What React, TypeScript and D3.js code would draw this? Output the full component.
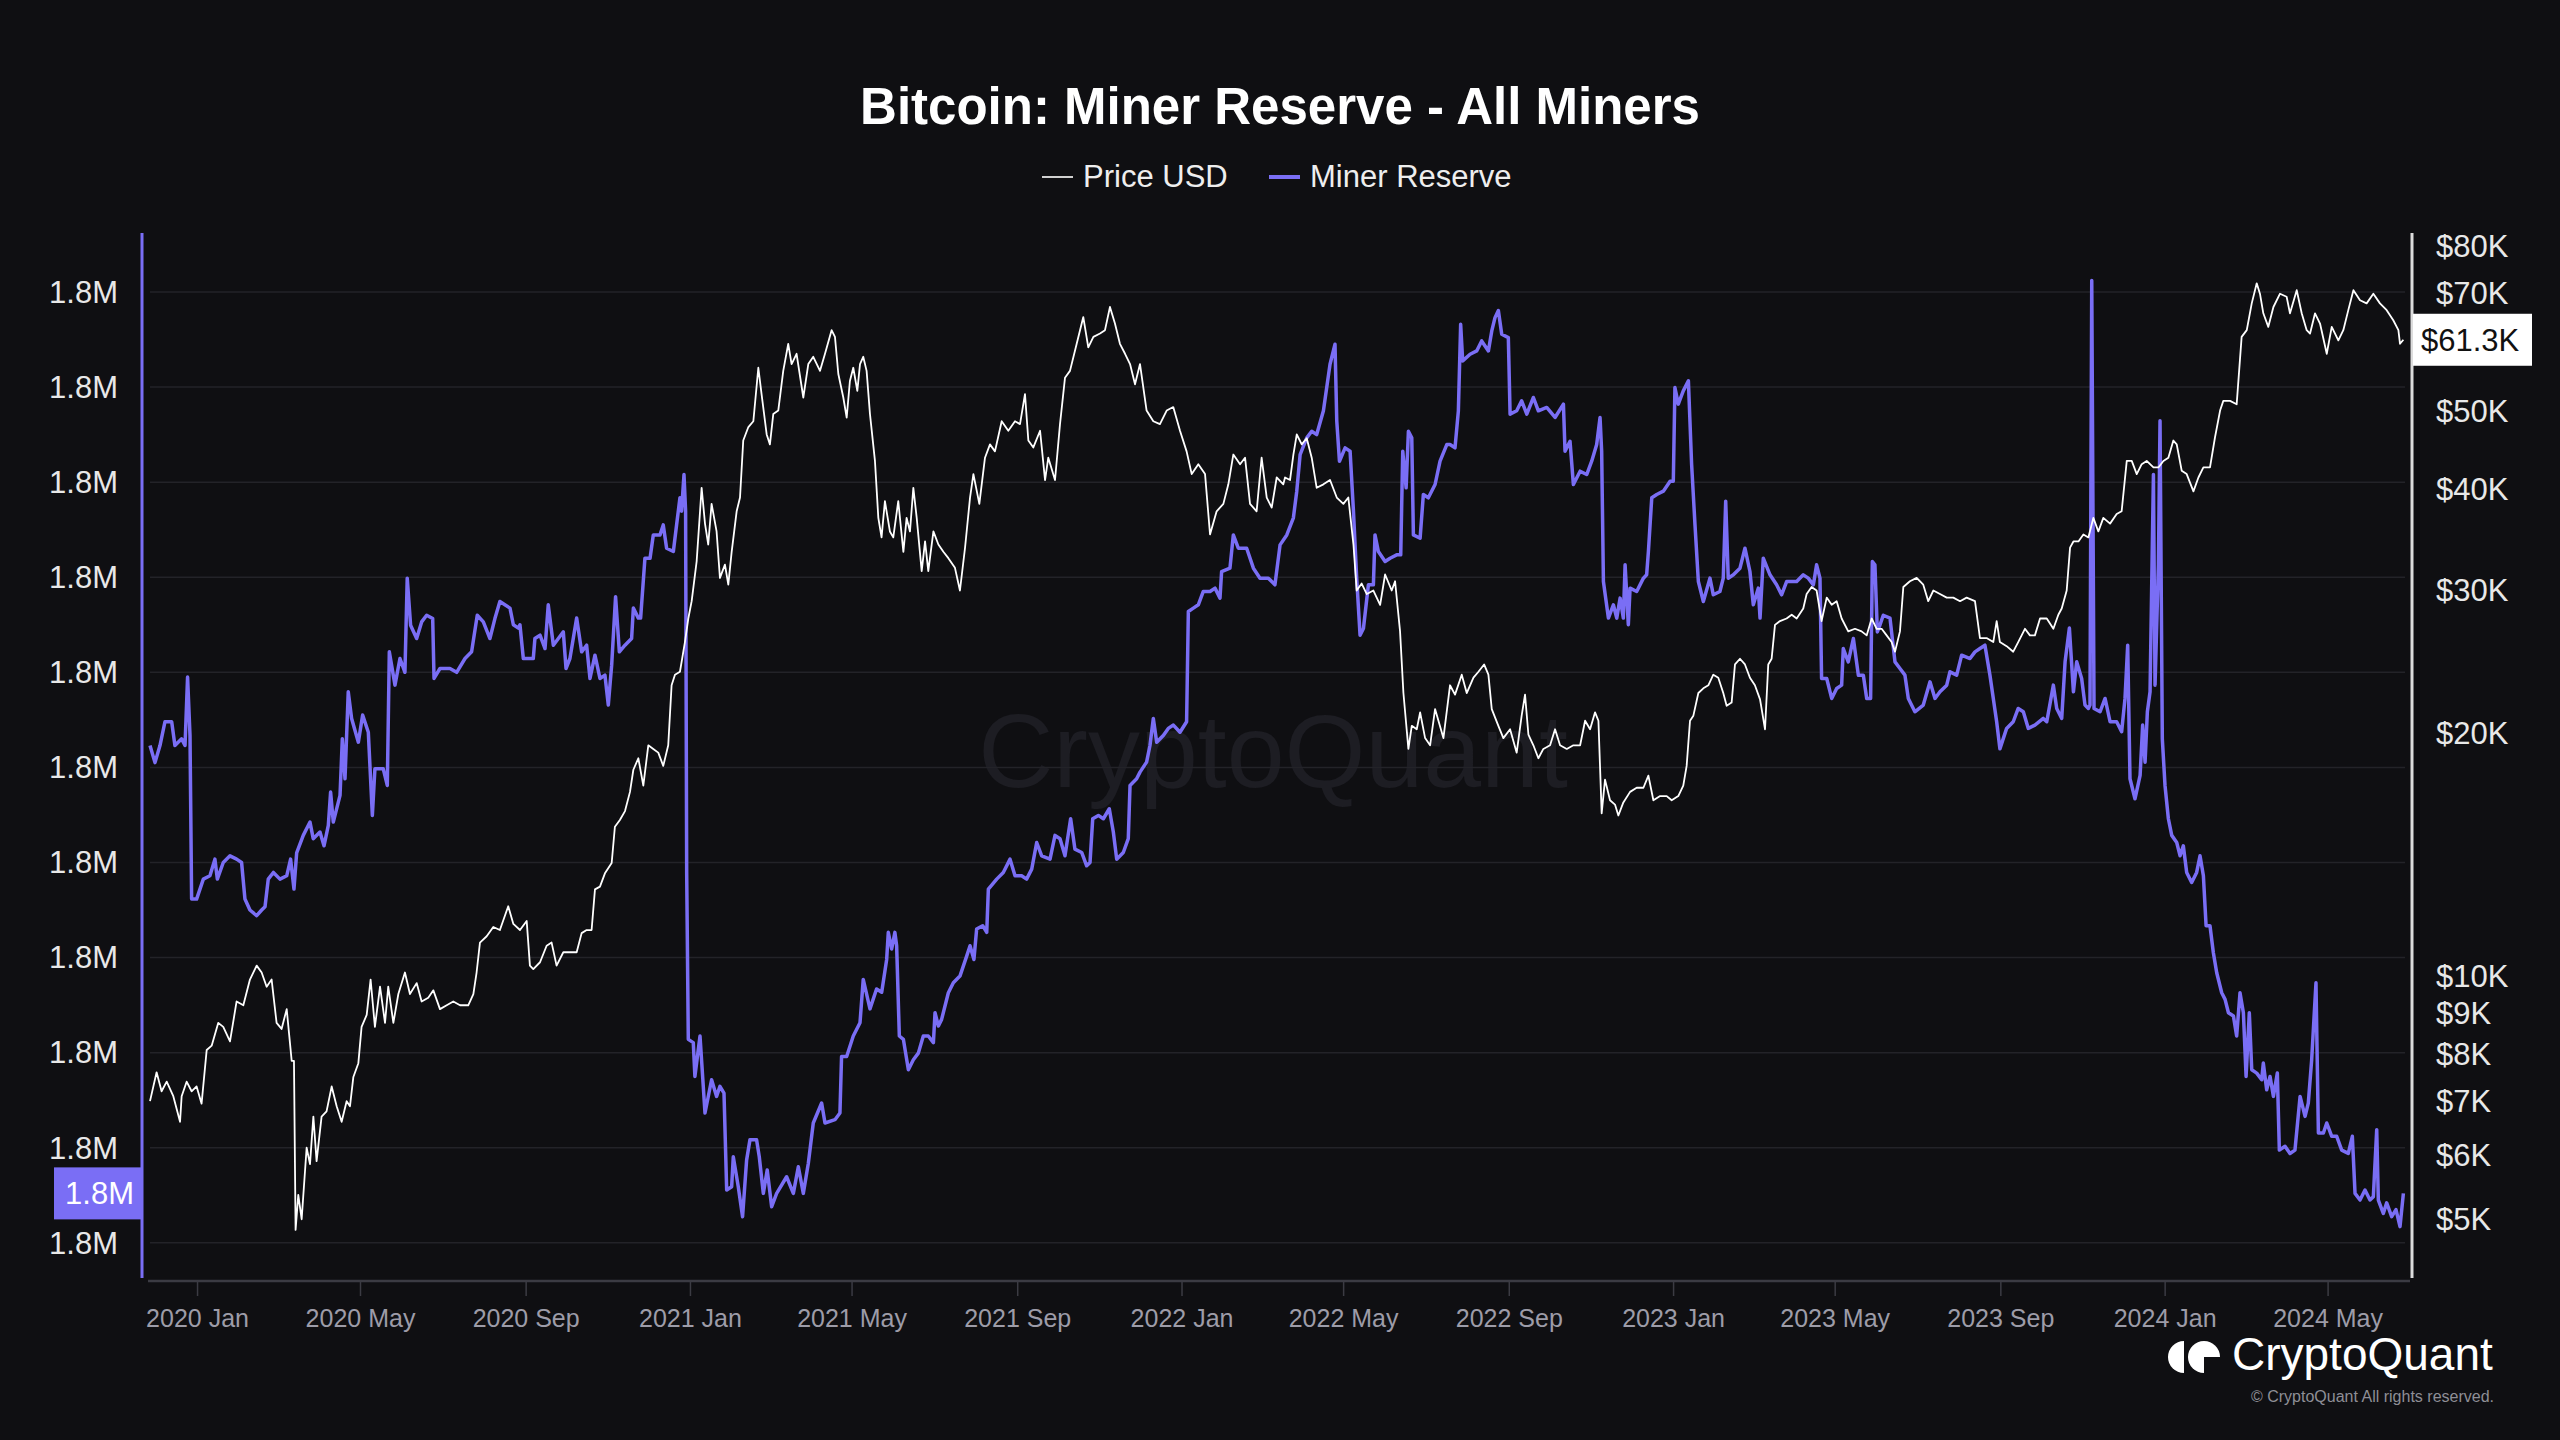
import React from "react";
import * as d3 from "d3";

const W = 2560;
const H = 1440;
const DAY_MS = 86400000;
// day offsets below count from this date
const SERIES_START = Date.UTC(2019, 10, 24);
const DOMAIN_START_DAY = -2.5;
const DOMAIN_END_DAY = 1682.3;

const TITLE = "Bitcoin: Miner Reserve - All Miners";
const LEGEND = ["Price USD", "Miner Reserve"];

// Miner reserve, thousand BTC
const reserveTicks = [1800, 1802, 1804, 1806, 1808, 1810, 1812, 1814, 1816, 1818, 1820];
const RESERVE_DOMAIN = [1799.26, 1821.24];
// Price USD, log axis
const priceTicks = [5000, 6000, 7000, 8000, 9000, 10000, 20000, 30000, 40000, 50000, 70000, 80000];
const PRICE_DOMAIN = [4229, 83100];

// [day offset, miner reserve (thousand BTC)]
const reserveSeries: [number, number][] = [
  [2.7,1810.46],[6.4,1810.1],[10.1,1810.46],[13.8,1810.96],[18.8,1810.96],[21.2,1810.46],[26.2,1810.6],[28.7,1810.46],[30.6,1811.9],[32.4,1810.67],[33.6,1807.23],[37.3,1807.23],[42.3,1807.65],[47.2,1807.72],[50.9,1808.07],[52.7,1807.65],[57.1,1808.0],[62.1,1808.14],[67.0,1808.07],[70.7,1808.0],[73.2,1807.23],[76.9,1807.0],[81.9,1806.88],[85.6,1807.0],[88.1,1807.07],[90.5,1807.65],[94.3,1807.79],[99.2,1807.65],[104.2,1807.72],[107.1,1808.07],[109.6,1807.44],[111.6,1808.2],[116.5,1808.57],[121.5,1808.85],[123.9,1808.5],[128.9,1808.64],[131.9,1808.35],[135.1,1808.78],[136.8,1809.48],[138.8,1808.85],[143.8,1809.41],[145.5,1810.6],[147.5,1809.76],[149.9,1811.59],[152.4,1811.03],[157.4,1810.53],[160.6,1811.1],[164.8,1810.74],[167.8,1808.99],[169.7,1809.97],[175.9,1809.97],[178.9,1809.62],[180.4,1812.43],[184.6,1811.73],[188.3,1812.29],[192.0,1812.0],[193.7,1813.98],[196.2,1812.99],[200.7,1812.71],[204.4,1813.06],[208.1,1813.2],[212.6,1813.13],[213.6,1811.87],[218.0,1812.08],[225.4,1812.08],[230.4,1812.0],[236.6,1812.29],[241.5,1812.43],[245.7,1813.2],[250.2,1813.06],[255.1,1812.71],[258.8,1813.13],[262.5,1813.49],[270.0,1813.35],[272.5,1813.0],[276.2,1812.93],
  [277.4,1813.0],[279.9,1812.29],[287.3,1812.29],[288.5,1812.71],[292.3,1812.78],[296,1812.5],[298.4,1813.42],[302.2,1812.57],[305.9,1812.71],[309.6,1812.85],[311.6,1812.08],[314.5,1812.29],[319.5,1813.14],[323.2,1812.43],[326.9,1812.57],[329.4,1811.87],[333.1,1812.36],[336.8,1811.87],[340.5,1811.94],[343,1811.31],[345.5,1812.15],[348.4,1813.59],[351.2,1812.43],[355.4,1812.57],[360.3,1812.71],[361.6,1813.35],[365.3,1813.14],[367,1813.14],[370.2,1814.4],[374,1814.4],[376.4,1814.89],[381.4,1814.89],[383.8,1815.1],[386.3,1814.61],[391.3,1814.54],[393.7,1815.1],[396.2,1815.67],[397.4,1815.39],[399.2,1816.16],[400.4,1815.39],[401.2,1807.79],[402.4,1804.28],[406.1,1804.21],[407.3,1803.5],[411.1,1804.35],[414.8,1802.73],[419.7,1803.43],[423.4,1803.08],[425.9,1803.29],[428.9,1803.15],[430.9,1801.11],[434.6,1801.18],[435.8,1801.81],[439.5,1801.18],[442.7,1800.55],[445.7,1801.74],[448.2,1802.17],[453.1,1802.17],[455.1,1801.81],[458.1,1801.04],[461,1801.53],[464.3,1800.76],[468,1801.04],[475.4,1801.39],[480.4,1801.04],[484.1,1801.6],[487.8,1801.04],[491.5,1801.67],[495.2,1802.52],[501.4,1802.94],[503.9,1802.52],[511.3,1802.59],[515,1802.73],[516.2,1803.92],[520,1803.92],[524.9,1804.35],[529.9,1804.63],[532.3,1805.54],[537.3,1804.92],[542.2,1805.34],[546,1805.27],[549.7,1805.96],[550.9,1806.53],[553.4,1806.18],[555.8,1806.53],[557.1,1806.25],[559.1,1804.35],
  [562.1,1804.28],[565.8,1803.64],[569.5,1803.85],[573.2,1803.99],[576.9,1804.35],[580.6,1804.35],[584.4,1804.21],[585.6,1804.84],[588.1,1804.56],[590.5,1804.7],[595.5,1805.26],[599.2,1805.47],[604.1,1805.61],[609.1,1806.03],[611.6,1806.25],[614.5,1805.96],[616.5,1806.6],[621,1806.67],[624,1806.53],[625.2,1807.44],[631.4,1807.65],[636.3,1807.79],[641.3,1808.07],[645,1807.72],[649.9,1807.72],[653.6,1807.65],[657.4,1807.86],[661.1,1808.42],[664.8,1808.14],[671,1808.07],[674.7,1808.57],[678.4,1808.5],[682.1,1808.14],[686.3,1808.92],[689.5,1808.28],[694.5,1808.21],[698.2,1807.93],[700.7,1808.0],[702.7,1808.92],[706.9,1808.99],[710.6,1808.92],[715,1809.13],[718,1808.64],[720.5,1808.07],[725.4,1808.21],[729.1,1808.5],[730.4,1809.62],[735.3,1809.76],[737.8,1809.9],[742.7,1810.11],[745.2,1810.46],[747.7,1811.03],[750.2,1810.53],[755.1,1810.67],[758.8,1810.82],[762.6,1810.89],[767.5,1810.74],[772.4,1810.96],[773.7,1813.28],[777.4,1813.35],[781.1,1813.42],[784.8,1813.7],[789.8,1813.7],[793.5,1813.77],[797.2,1813.56],[798.4,1814.12],[804.6,1814.19],[807.1,1814.89],[810.8,1814.61],[817,1814.61],[822,1814.19],[826.9,1813.98],[833.1,1813.98],[838,1813.84],[841.8,1814.68],
  [846.8,1814.89],[851.7,1815.25],[854.2,1815.81],[856.7,1816.58],[861.6,1816.93],[865.3,1817.07],[869,1817.0],[874,1817.5],[878.9,1818.48],[882.6,1818.9],[883.9,1817.29],[885.9,1816.44],[890.1,1816.72],[893.8,1816.65],[896.3,1815.39],[898.7,1813.98],[901.2,1812.78],[903.7,1812.92],[907.4,1813.84],[911.1,1813.84],[912.3,1814.89],[914.8,1814.54],[919.8,1814.33],[923.5,1814.4],[928.4,1814.47],[931.4,1814.47],[932.9,1816.65],[935.4,1815.88],[937.1,1817.07],[939.6,1816.93],[940.8,1814.89],[945.8,1814.82],[948.2,1815.74],[951.9,1815.67],[956.9,1815.95],[960.6,1816.44],[965.6,1816.79],[968,1816.79],[971.7,1816.72],[974.2,1817.5],[975.9,1819.32],[977.4,1818.55],[982.9,1818.69],[987.8,1818.76],[991.5,1818.97],[996.5,1818.76],[999,1819.18],[1001.4,1819.46],[1003.9,1819.61],[1006.4,1819.11],[1011.3,1819.04],[1012.6,1817.43],[1017.5,1817.5],[1021.2,1817.71],[1025,1817.43],[1029.9,1817.78],[1033.6,1817.5],[1039.8,1817.57],[1046,1817.36],[1052.2,1817.64],[1053.4,1816.65],[1057.1,1816.86],[1059.6,1815.95],[1064.6,1816.23],[1069.5,1816.16],[1073.2,1816.44],[1076.9,1816.79],[1079.4,1817.36],[1080.6,1816.65],[1081.9,1813.91],[1085.6,1813.14],[1089.3,1813.42],[1091.8,1813.14],[1094.3,1813.56],[1096.7,1813.14],[1098,1814.26],[1100.4,1813.0],[1101.7,1813.77],[1106.6,1813.7],[1111.6,1813.98],[1114,1814.05],[1115.3,1814.54],[1117.8,1815.67],[1121.5,1815.74],[1126.4,1815.81],[1131.4,1816.02],
  [1133.8,1816.02],[1135,1817.99],[1137.5,1817.64],[1141.2,1817.92],[1145,1818.13],[1147.4,1816.37],[1149.9,1815.1],[1152.4,1813.91],[1156.1,1813.49],[1161,1813.98],[1163.5,1813.63],[1168.4,1813.7],[1170.9,1813.98],[1172.7,1815.6],[1174.6,1813.98],[1178.4,1814.05],[1183.3,1814.19],[1187,1814.61],[1190.7,1814.12],[1193.2,1813.42],[1196.9,1813.77],[1198.2,1813.14],[1200.6,1814.4],[1205.6,1814.05],[1210.5,1813.84],[1214.2,1813.63],[1218,1813.91],[1225.4,1813.91],[1230.3,1814.05],[1234,1813.98],[1237.8,1813.84],[1240.2,1814.26],[1242.7,1813.98],[1243.9,1811.87],[1247.7,1811.87],[1251.4,1811.45],[1255.1,1811.66],[1258.8,1811.73],[1260,1812.5],[1263.7,1812.22],[1267.5,1812.71],[1271.2,1811.94],[1274.9,1811.94],[1277.4,1811.45],[1280.3,1811.45],[1281.6,1814.33],[1283.5,1814.26],[1285.3,1812.85],[1287.2,1812.99],[1289.7,1813.2],[1294.7,1813.14],[1298.4,1812.22],[1302.1,1812.08],[1305.8,1811.94],[1308.3,1811.45],[1313.2,1811.17],[1319.4,1811.31],[1324.4,1811.8],[1328.1,1811.45],[1331.8,1811.59],[1336.8,1811.73],[1339.2,1812.01],[1344.2,1811.94],[1347.9,1812.36],[1354.1,1812.29],[1357.8,1812.43],[1361.5,1812.5],[1365.2,1812.57],[1368.9,1811.94],[1371.4,1811.45],[1373.9,1810.96],[1376.3,1810.39],[1381.3,1810.82],[1386.2,1810.96],[1389.9,1811.24],[1393.7,1811.17],[1397.4,1810.82],[1402.3,1810.89],[1408.5,1811.03],
  [1411.1,1810.96],[1416,1811.73],[1418.5,1811.24],[1422.2,1811.03],[1424.7,1812.22],[1427.9,1812.93],[1430.9,1811.59],[1433.3,1812.22],[1437,1811.87],[1439.5,1811.31],[1442,1811.24],[1443.2,1811.31],[1444.5,1820.24],[1446.2,1811.24],[1450.7,1811.17],[1454.4,1811.45],[1458.1,1810.96],[1463,1810.96],[1466.7,1810.75],[1469.2,1811.45],[1471.2,1812.57],[1472.9,1809.76],[1476.6,1809.34],[1480.4,1809.83],[1482.3,1810.89],[1484.1,1810.11],[1485.8,1811.17],[1487.8,1811.59],[1490.3,1816.16],[1491.5,1811.73],[1494,1814.26],[1495.2,1817.29],[1496.9,1810.6],[1498.9,1809.62],[1501.4,1808.92],[1503.9,1808.57],[1507.6,1808.42],[1510.1,1808.14],[1512.5,1808.35],[1515,1807.79],[1518.7,1807.58],[1522.4,1807.79],[1524.9,1808.14],[1527.4,1807.72],[1529.4,1806.67],[1532.3,1806.67],[1534.8,1806.1],[1537.3,1805.68],[1541,1805.26],[1543.5,1805.12],[1546,1804.84],[1549.7,1804.77],[1552.1,1804.35],[1554.6,1805.26],[1557.1,1804.84],[1559.1,1803.5],[1561.5,1804.84],[1563.3,1803.64],[1567,1803.57],[1570.7,1803.43],[1571.9,1803.78],[1574.4,1803.22],[1576.9,1803.5],[1579.4,1803.08],[1582.3,1803.57],[1583.8,1801.95],[1588,1802.03],[1591.7,1801.88],[1595.4,1801.95],[1599.2,1803.08],[1602.9,1802.66],[1605.3,1802.94],[1607.8,1803.85],[1611,1805.47],[1612.8,1802.31],[1616.5,1802.31],[1619,1802.52],[1622.7,1802.24],[1626.4,1802.24],[1630.1,1801.95],[1635,1801.88],[1638,1802.24],[1640,1801.04],[1643.7,1800.9],[1647.4,1801.11],[1651.1,1800.9],[1653.6,1800.97],[1656.1,1802.38],[1657.3,1800.9],[1661,1800.62],[1663.5,1800.84],[1667.2,1800.55],[1670.4,1800.7],[1673.4,1800.34],[1675.9,1801.04],
];

// [day offset, BTC price USD]
const priceSeries: [number, number][] = [
  [2.7,7000],[7.6,7600],[11.3,7200],[15.1,7400],[20,7100],[25,6600],[26.2,7100],[29.9,7400],[33.6,7200],[37.3,7300],[41,6950],[44.8,8100],[48.5,8200],[53.4,8750],[57.1,8650],[62.1,8300],[67,9300],[72,9200],[76.9,9900],[81.9,10300],[85.6,10100],[89.3,9700],[93,9900],[96.7,8750],[100.4,8600],[104.2,9100],[107.9,7850],[109.6,7850],[110.8,4850],[112.8,5360],[115.3,5000],[119,6130],[121.5,5850],[124,6700],[126.4,5900],[130.1,6700],[133.8,6800],[137.6,7300],[141.3,6900],[145,6600],[148.7,7000],[151.2,6900],[153.7,7500],[157.4,7800],[159.8,8650],[163.6,8950],[166.5,9900],[169.7,8650],[173.5,9700],[177.2,8750],[179.6,9700],[183.4,8750],[187.1,9500],[192,10100],[195.7,9500],[200.7,9800],[204.4,9300],[209.3,9400],[213.1,9600],[218,9100],[223,9200],[227.9,9300],[232.9,9200],[239,9200],[242.8,9500],[245.2,10100],[247.7,11000],[252.7,11200],[257.6,11500],[262.5,11400],[268.7,12200],[272.5,11600],
  [277.4,11400],[282.4,11700],[284.8,10300],[287.3,10200],[292.3,10400],[297.2,10900],[300.9,11000],[304.6,10300],[309.6,10700],[314.5,10700],[319.5,10700],[323.2,11300],[326.9,11400],[330.6,11400],[333.1,12800],[336.8,12900],[340.5,13400],[345.5,13800],[347.9,15300],[351.6,15600],[355.4,16000],[359.1,16900],[361.6,18000],[365.3,18600],[369,17200],[372.7,19300],[376.4,19100],[380.1,18900],[383.8,18200],[387.5,19300],[390,22900],[392.5,23600],[396.2,23800],[399.9,25900],[402.4,27700],[404.9,29100],[408.6,32600],[412.3,40200],[414.8,36300],[417.2,34200],[419.7,38400],[423.4,35500],[425.9,31100],[429.6,32300],[432.1,30500],[434.6,33500],[438.3,37600],[440.8,39100],[443.2,46000],[447,47800],[450.7,48600],[454.4,56600],[456.8,52500],[460.6,46800],[463,45500],[465.5,49600],[469.2,50100],[472.9,56100],[476.6,60600],[479.1,57200],[482.8,58900],[487.8,52000],[491.5,57200],[495.2,58400],[500.2,56100],[503.9,58900],[508.8,63000],[511.3,61800],[513.8,55600],[517.5,52000],[520,49100],[522.4,54500],[524.9,56600],[527.9,53000],[529.9,57200],[532.3,58400],[534.8,56100],[537.3,49600],[541,43400],[543.5,36900],[545.9,34900],[548.4,38700],[552.1,35500],[554.6,34900],[558.3,38700],
  [562.1,33500],[564.5,36900],[567,35500],[569.5,40200],[572,36900],[575.7,31700],[578.2,34500],[580.6,31700],[584.4,35500],[588.1,34200],[591.8,33500],[595.5,32900],[600.4,32000],[604.1,30000],[607.9,33900],[611.6,39100],[614.1,41800],[618.5,38400],[622.7,43800],[626.4,45500],[630.1,44600],[635.1,48600],[640,47300],[645,48600],[648.7,48200],[652.4,52500],[654.9,46000],[658.6,45100],[663.6,47300],[667.3,41100],[669.7,43800],[674.7,41100],[678.4,48200],[682.1,55000],[685.8,56100],[690.8,60600],[695.7,65400],[699.4,60000],[703.2,61800],[708.1,62400],[711.8,63000],[715.5,67300],[719.2,64200],[722.9,60600],[726.7,58900],[730.4,57200],[734.1,54000],[737.8,57200],[742.7,50100],[747.7,48600],[752.6,48200],[757.6,50100],[762.5,50600],[767.5,47300],[772.4,44600],[776.2,41800],[781.1,43000],[786.1,41800],[789.8,35200],[794.7,37600],[799.7,38400],[803.4,40600],[807.1,44200],[812.1,43000],[815.8,43800],[819.5,38400],[824.4,37600],[828.1,43800],[831.9,39100],[835.6,38000],[839.3,41400],[844.2,40600],
  [845.5,41400],[849.2,41100],[851.7,44200],[854.2,46800],[857.9,45500],[861.6,46300],[865.3,43800],[869,40200],[874,40600],[878.9,41100],[883.9,39100],[888.8,38400],[892.5,39100],[896.3,34200],[898.7,30000],[902.4,30600],[906.2,29700],[911.1,30000],[916.1,28800],[919.8,31400],[924.7,30000],[927.2,30800],[930.9,26700],[933.4,22400],[937.1,19100],[939.6,20400],[943.3,20200],[945.8,21200],[949.5,19700],[953.2,19300],[956.9,21400],[959.4,20700],[963.1,19700],[968,22900],[971.7,22300],[976.7,23600],[980.4,22400],[985.4,23400],[989.1,23800],[993.3,24300],[996.5,23600],[999,21400],[1003.9,20400],[1007.6,19700],[1012.6,20200],[1017.5,18900],[1021.2,21000],[1023.7,22300],[1026.2,19900],[1029.9,19300],[1033.6,18600],[1037.3,19100],[1042.3,19300],[1046,20200],[1049.7,19300],[1054.7,19100],[1059.6,19300],[1064.6,19300],[1068.3,20700],[1072,20200],[1075.7,21200],[1078.2,20700],[1080.6,15900],[1083.1,17500],[1086.8,16500],[1090.5,16300],[1093,15800],[1096.7,16400],[1101.7,16900],[1106.6,17100],[1111.6,17100],[1115.3,17700],[1119,16500],[1124,16700],
  [1128.9,16700],[1132.6,16500],[1137.5,16700],[1141.2,17200],[1143.7,18200],[1146.2,20700],[1148.7,21000],[1152.4,22400],[1156.1,22700],[1159.8,22900],[1163.5,23600],[1167.2,23400],[1170.9,22400],[1173.4,21600],[1177.1,21800],[1179.6,24300],[1183.3,24700],[1187,24300],[1190.7,23400],[1194.4,22900],[1198.2,22000],[1201.9,20200],[1204.3,24300],[1206.8,24700],[1209.3,27200],[1213,27500],[1217.9,27700],[1221.7,28000],[1225.4,27700],[1230.3,28500],[1232.8,29700],[1236.5,30300],[1240.2,30000],[1243.9,27500],[1247.7,29400],[1251.4,28800],[1255.1,29100],[1258.8,27700],[1263.7,26700],[1268.7,26900],[1273.6,26700],[1277.4,26400],[1281.1,27700],[1284.8,26900],[1288.5,26900],[1292.2,26400],[1295.9,25900],[1298.4,25200],[1302.1,26700],[1304.6,30300],[1309.5,30800],[1314.5,31100],[1319.4,30500],[1323.1,29100],[1326.9,30000],[1331.8,29700],[1336.8,29400],[1341.7,29400],[1346.7,29100],[1351.6,29400],[1357.8,29100],[1361.5,26200],[1366.4,26200],[1371.4,25900],[1373.9,27500],[1376.3,25900],[1381.3,25600],[1386.2,25200],[1389.9,25900],[1394.9,26900],[1398.6,26400],[1402.3,26400],
  [1406.1,27700],[1411.1,27700],[1416,26900],[1419.7,28000],[1422.2,28500],[1425.9,30000],[1428.4,33900],[1430.9,34500],[1434.6,34500],[1438.3,35200],[1442,34900],[1445.7,36900],[1449.4,35500],[1453.1,36900],[1458.1,36300],[1463,37300],[1466.7,37600],[1470.5,43400],[1474.2,43400],[1477.9,41800],[1481.6,43000],[1485.3,43400],[1490.3,42600],[1494,42600],[1497.7,43400],[1501.4,43800],[1505.1,46000],[1507.6,45500],[1511.3,42200],[1515,41800],[1520,39800],[1523.7,41400],[1527.4,42600],[1532.3,42600],[1536,46400],[1539.8,50100],[1542.2,51500],[1547.2,51500],[1552.1,51000],[1555.8,61800],[1559.6,63000],[1563.3,68000],[1567,72000],[1569.4,69900],[1571.9,66100],[1575.6,63600],[1579.4,67300],[1584.3,69900],[1589.2,69300],[1591.7,66100],[1596.7,70600],[1600.4,66100],[1604.1,63000],[1606.6,62400],[1610.3,66100],[1614,64200],[1619,58900],[1622.7,63600],[1627.6,61200],[1631.3,63000],[1635,66700],[1638.8,70600],[1643.7,68600],[1648.6,68000],[1653.6,69900],[1658.5,68000],[1663.5,66700],[1668.4,64800],[1672.2,63000],[1673.4,60600],[1675.9,61300],
];

const FONT = "'Liberation Sans', Arial, Helvetica, sans-serif";
const BG = "#0f0f12";
const PURPLE = "#7a6ef5";

const PLOT = { left: 143, right: 2412, top: 233, bottom: 1278 };

const dayToDate = (d: number) => new Date(SERIES_START + d * DAY_MS);

export default function App() {
  const x = d3
    .scaleUtc()
    .domain([dayToDate(DOMAIN_START_DAY), dayToDate(DOMAIN_END_DAY)])
    .range([PLOT.left, PLOT.right]);
  const yL = d3.scaleLinear().domain(RESERVE_DOMAIN).range([PLOT.bottom, PLOT.top]);
  const yR = d3.scaleLog().domain(PRICE_DOMAIN).range([PLOT.bottom, PLOT.top]);

  const reserveLine = d3
    .line<[number, number]>()
    .x((d) => x(dayToDate(d[0])))
    .y((d) => yL(d[1]));
  const priceLine = d3
    .line<[number, number]>()
    .x((d) => x(dayToDate(d[0])))
    .y((d) => yR(d[1]));

  const xTicks = x.ticks(d3.utcMonth.every(4) as any);
  const fmtX = d3.utcFormat("%Y %b");
  const fmtL = (v: number) => d3.format(".2s")(v * 1000);
  const fmtR = (v: number) => "$" + v / 1000 + "K";

  const lastR = reserveSeries[reserveSeries.length - 1];
  const lastP = priceSeries[priceSeries.length - 1];
  const lastRY = yL(lastR[1]);
  const lastPY = yR(lastP[1]);
  const lastPLabel = "$" + (lastP[1] / 1000).toFixed(1) + "K";

  const gridX0 = PLOT.left + 7;
  const gridX1 = PLOT.right - 7;

  return (
    <div style={{ position: "absolute", left: 0, top: 0, width: W, height: H }}>
      <svg width={W} height={H} style={{ display: "block" }} fontFamily={FONT}>
        <rect x={0} y={0} width={W} height={H} fill={BG} />

        {/* watermark */}
        <text x={1273} y={787} textAnchor="middle" fontSize={104} fill="#1d1d23">
          CryptoQuant
        </text>

        {/* title */}
        <text x={1280} y={124} textAnchor="middle" fontSize={51} fontWeight="bold" fill="#ffffff">
          {TITLE}
        </text>

        {/* legend */}
        <line x1={1042} x2={1073} y1={177} y2={177} stroke="#d0d0d0" strokeWidth={2} />
        <text x={1083} y={187} fontSize={31} fill="#eeeeee">{LEGEND[0]}</text>
        <line x1={1269} x2={1300} y1={177} y2={177} stroke={PURPLE} strokeWidth={4} />
        <text x={1310} y={187} fontSize={31} fill="#eeeeee">{LEGEND[1]}</text>

        {/* grid */}
        {reserveTicks.map((t) => (
          <line key={"g" + t} x1={gridX0} x2={gridX1} y1={yL(t)} y2={yL(t)} stroke="#232328" strokeWidth={1.5} />
        ))}

        {/* x axis */}
        <line x1={PLOT.left + 5} x2={PLOT.right - 2} y1={1281} y2={1281} stroke="#3b3b43" strokeWidth={2.5} />
        {xTicks.map((t) => (
          <g key={t.toISOString()}>
            <line x1={x(t)} x2={x(t)} y1={1282} y2={1296} stroke="#3b3b43" strokeWidth={1.5} />
            <text x={x(t)} y={1327} textAnchor="middle" fontSize={25} fill="#9d9ca8">
              {fmtX(t)}
            </text>
          </g>
        ))}

        {/* series */}
        <path d={reserveLine(reserveSeries) || ""} fill="none" stroke={PURPLE} strokeWidth={3.5} strokeLinejoin="round" />
        <path d={priceLine(priceSeries) || ""} fill="none" stroke="#ffffff" strokeWidth={1.8} strokeLinejoin="round" />

        {/* left axis */}
        <line x1={PLOT.left - 1} x2={PLOT.left - 1} y1={PLOT.top} y2={PLOT.bottom} stroke={PURPLE} strokeWidth={3} />
        {reserveTicks.map((t) => (
          <text key={"l" + t} x={118} y={yL(t)} dy="0.35em" textAnchor="end" fontSize={31} fill="#e8e8e8">
            {fmtL(t)}
          </text>
        ))}
        <rect x={54} y={lastRY - 26} width={88} height={52} fill={PURPLE} />
        <text x={134} y={lastRY} dy="0.35em" textAnchor="end" fontSize={31} fill="#ffffff">
          {fmtL(lastR[1])}
        </text>

        {/* right axis */}
        <line x1={PLOT.right} x2={PLOT.right} y1={PLOT.top} y2={PLOT.bottom} stroke="#dcdcdc" strokeWidth={3} />
        {priceTicks.map((t) => (
          <text key={"r" + t} x={2436} y={yR(t)} dy="0.35em" fontSize={31} fill="#e8e8e8">
            {fmtR(t)}
          </text>
        ))}
        <rect x={PLOT.right + 1} y={lastPY - 26} width={119} height={52} fill="#ffffff" />
        <text x={2421} y={lastPY} dy="0.35em" fontSize={31} fill="#111111">
          {lastPLabel}
        </text>

        {/* logo */}
        <path d="M 2184 1341 A 16 16 0 0 0 2184 1373 Z" fill="#ffffff" />
        <circle cx={2204} cy={1357} r={16} fill="#ffffff" />
        <path d="M 2204 1357 L 2222 1357 L 2222 1375 L 2204 1375 Z" fill={BG} />
        <text x={2232} y={1370} fontSize={46} fill="#ffffff">CryptoQuant</text>
        <text x={2494} y={1402} textAnchor="end" fontSize={16} fill="#8e8e96">
          © CryptoQuant All rights reserved.
        </text>
      </svg>
    </div>
  );
}
